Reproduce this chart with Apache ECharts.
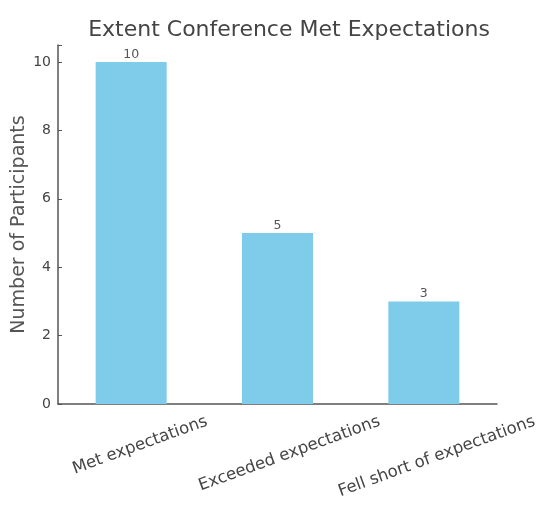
<!DOCTYPE html>
<html><head><meta charset="utf-8">
<script src="https://cdn.jsdelivr.net/npm/echarts@6/dist/echarts.min.js"></script>
<style>html,body{margin:0;padding:0;background:#fff}#c{width:544px;height:508px}</style>
</head><body><div id="c"></div>
<script>
const categories = ["Met expectations", "Exceeded expectations", "Fell short of expectations"];
const participants = [10, 5, 3];
const yTicks = [0, 2, 4, 6, 8, 10];

const font = 'DejaVu Sans';
const labelSize = 16.5;
const rot = 20;
// centre rotated labels below their ticks with the top of each rotated box on one line:
// an empty first line of height w*tan(rot) pushes each label down by half of that
const ctx = document.createElement('canvas').getContext('2d');
ctx.font = labelSize + 'px "' + font + '"';
const th = rot * Math.PI / 180;
const xData = categories.map(c => {
  const w = ctx.measureText(c).width;
  return { value: c, textStyle: { align: 'center', verticalAlign: 'middle',
    fontFamily: font, fontSize: labelSize, color: '#444',
    lineHeight: Math.max(20, w * Math.tan(th)) } };
});

const chart = echarts.init(document.getElementById('c'));
chart.setOption({
  animation: false,
  backgroundColor: '#ffffff',
  title: {
    text: 'Extent Conference Met Expectations',
    left: 284, top: 14, textAlign: 'center',
    textStyle: { fontFamily: font, fontSize: 22, fontWeight: 'normal', color: '#444' }
  },
  grid: { left: 58, right: 47, top: 45, bottom: 104, containLabel: false, outerBoundsMode: 'none' },
  xAxis: {
    type: 'category', data: xData,
    axisLine: { lineStyle: { color: '#555', width: 1.5 } },
    axisTick: { alignWithLabel: true, inside: true, length: 4, lineStyle: { color: '#555' } },
    axisLabel: { interval: 0, hideOverlap: false, rotate: rot, align: 'center', verticalAlign: 'middle', margin: 17,
      fontFamily: font, fontSize: labelSize, color: '#444',
      formatter: v => '\n' + v }
  },
  yAxis: {
    type: 'value', min: 0, max: 10.5, interval: 2,
    name: 'Number of Participants', nameLocation: 'middle', nameGap: 29, nameMoveOverlap: false,
    nameTextStyle: { fontFamily: font, fontSize: 19, color: '#555' },
    axisLine: { show: true, lineStyle: { color: '#555', width: 1.5 } },
    axisTick: { show: true, inside: true, length: 4, lineStyle: { color: '#555' } },
    splitLine: { show: false },
    axisLabel: { fontFamily: font, fontSize: 14, color: '#444', margin: 7,
      formatter: v => yTicks.includes(v) ? String(v) : '' }
  },
  series: [{
    type: 'bar', data: participants, barWidth: 71,
    itemStyle: { color: '#7ecbea' },
    label: { show: true, position: 'top', distance: 1, fontFamily: font, fontSize: 12.5, color: '#555' }
  }]
});
</script></body></html>
